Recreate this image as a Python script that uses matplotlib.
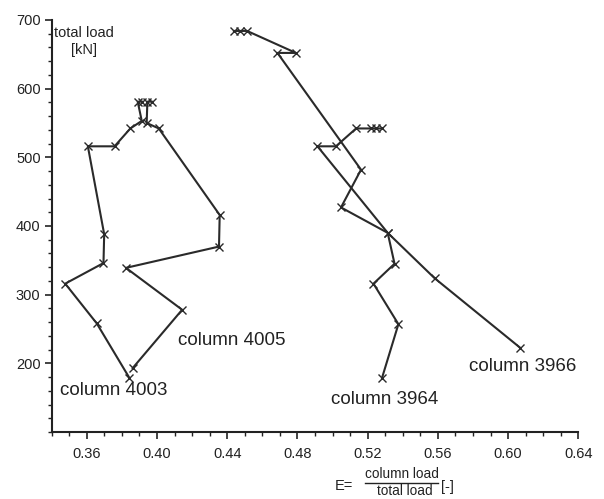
import matplotlib.pyplot as plt
from matplotlib.ticker import MultipleLocator
from matplotlib.lines import Line2D

plt.rcParams['font.family'] = ['Liberation Sans', 'DejaVu Sans']

# E = column load / total load, against total load [kN]
col4003_e = [0.3842, 0.3657, 0.3477, 0.3695, 0.3699, 0.3606, 0.3758, 0.3848, 0.3913, 0.3890, 0.3915]
col4003_load = [179, 258, 316, 346, 388, 516, 516, 542, 553, 581, 581]

col4005_e = [0.3861, 0.4143, 0.3823, 0.4353, 0.4357, 0.4010, 0.3941, 0.3945, 0.3970]
col4005_load = [193, 278, 339, 370, 416, 542, 550, 581, 581]

col3964_e = [0.5282, 0.5375, 0.5233, 0.5353, 0.5314, 0.4914, 0.5019, 0.5134, 0.5219, 0.5248, 0.5280]
col3964_load = [179, 257, 316, 345, 390, 516, 516, 542, 542, 542, 542]

col3966_e = [0.4438, 0.4473, 0.4513, 0.4791, 0.4686, 0.5162, 0.5048, 0.5314, 0.5581, 0.6067]
col3966_load = [684, 684, 684, 652, 652, 482, 427, 390, 324, 223]

labels = ["column 4003", "column 4005", "column 3964", "column 3966"]
label_pos = [(0.3445, 160), (0.4118, 233), (0.4993, 148), (0.5775, 196)]

fig = plt.figure(figsize=(6.04, 4.99), dpi=100)
ax = fig.add_axes([0.0856, 0.1343, 0.8719, 0.8257])

series = [(col4003_e, col4003_load), (col4005_e, col4005_load),
          (col3964_e, col3964_load), (col3966_e, col3966_load)]
for e, load in series:
    ax.plot(e, load, color='#2a2a2a', lw=1.5, marker='x', ms=6, mew=1.0)

for text, (x, y) in zip(labels, label_pos):
    ax.text(x, y, text, fontsize=13.5, color='#222222', ha='left', va='center')

ax.set_xlim(0.34, 0.64)
ax.set_ylim(100, 700)
ax.set_xticks([0.36, 0.40, 0.44, 0.48, 0.52, 0.56, 0.60, 0.64])
ax.set_xticklabels(["0.36", "0.40", "0.44", "0.48", "0.52", "0.56", "0.60", "0.64"])
ax.set_yticks([200, 300, 400, 500, 600, 700])
ax.xaxis.set_minor_locator(MultipleLocator(0.01))
ax.yaxis.set_minor_locator(MultipleLocator(20))
ax.tick_params(which='major', direction='out', length=5, width=1.2, labelsize=10.5, colors='#222222')
ax.tick_params(which='minor', direction='out', length=3, width=1.0, colors='#222222')
ax.tick_params(axis='x', pad=6)
ax.tick_params(axis='y', pad=3)

for side in ['top', 'right']:
    ax.spines[side].set_visible(False)
for side in ['left', 'bottom']:
    ax.spines[side].set_linewidth(1.5)
    ax.spines[side].set_color('#222222')

# y label in the upper left corner
fig.text(84 / 604, 1 - 26 / 499, "total load\n[kN]", fontsize=10.5,
         ha='center', va='top', multialignment='center', linespacing=1.25, color='#222222')

# x label as a fraction
fig.text(344 / 604, 1 - 486 / 499, "E=", fontsize=10.5, ha='center', va='center', color='#222222')
fig.text(402 / 604, 1 - 474 / 499, "column load", fontsize=9.8, ha='center', va='center', color='#222222')
fig.text(405 / 604, 1 - 491 / 499, "total load", fontsize=9.8, ha='center', va='center', color='#222222')
fig.text(447 / 604, 1 - 487 / 499, "[-]", fontsize=10.5, ha='center', va='center', color='#222222')
fig.add_artist(Line2D([365 / 604, 438 / 604], [1 - 482.5 / 499, 1 - 482.5 / 499],
                      transform=fig.transFigure, color='#222222', lw=1.0))

fig.savefig("out.png", dpi=100)
plt.close(fig)
